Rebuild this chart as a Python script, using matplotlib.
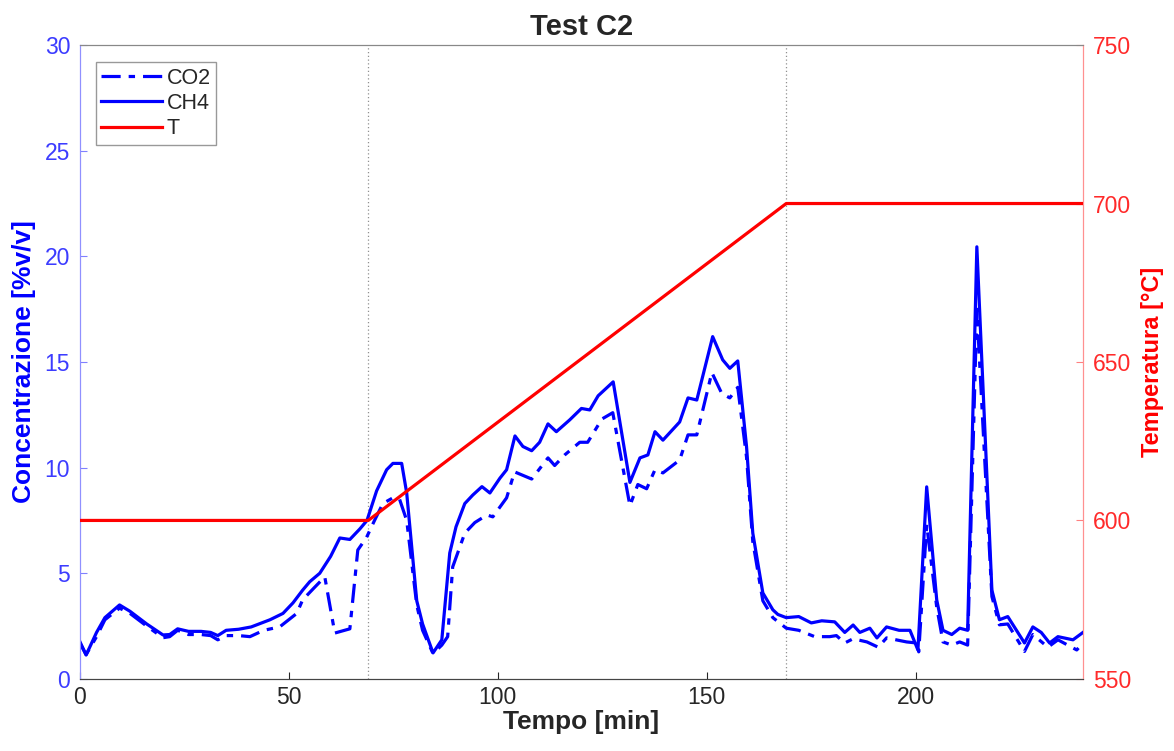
import matplotlib
matplotlib.use("Agg")
import matplotlib.pyplot as plt

plt.rcParams['font.family'] = ['Liberation Sans', 'DejaVu Sans']

# ---- data ----
t_ch4 = [0, 1.5, 4, 6, 9.5, 12, 16, 19.9, 21.5, 23.4, 26, 29, 31.3, 33, 35, 38, 41, 45.5, 48.6,
         51, 53.3, 55, 57.4, 60, 62.2, 64.6, 67, 68.7, 71, 73.4, 74.9, 77, 78.2, 80.6, 82, 84.5,
         86.6, 88.5, 90, 92.1, 94, 96.2, 98.1, 100.5, 102.1, 104.1, 106, 108.1, 110, 112, 114,
         117.2, 120, 122, 124, 127.6, 131.6, 134, 135.9, 137.6, 139.5, 143.5, 145.5, 147.6, 151.4,
         153.8, 155.5, 157.4, 159.5, 161, 163.4, 165.8, 167, 169, 172, 175, 177.5, 180.6, 183, 185,
         186.6, 189, 190.7, 193, 196, 198.6, 200.5, 202.6, 205, 206.5, 208.6, 210.5, 212.4, 214.6,
         218.2, 220, 222, 226, 228, 230, 232, 234, 237.6, 240]
ch4 = [1.77, 1.13, 2.2, 2.9, 3.5, 3.2, 2.6, 2.08, 2.1, 2.37, 2.25, 2.25, 2.2, 2.05, 2.3, 2.35,
       2.46, 2.8, 3.1, 3.6, 4.2, 4.6, 5.0, 5.8, 6.67, 6.6, 7.1, 7.5, 8.9, 9.9, 10.2, 10.2, 8.8, 3.7,
       2.6, 1.23, 1.85, 5.96, 7.2, 8.3, 8.7, 9.1, 8.8, 9.5, 9.9, 11.5, 11.0, 10.8, 11.2, 12.07, 11.7,
       12.26, 12.8, 12.73, 13.4, 14.06, 9.3, 10.46, 10.6, 11.7, 11.3, 12.16, 13.3, 13.2, 16.2,
       15.1, 14.7, 15.05, 11.0, 6.9, 4.07, 3.27, 3.05, 2.9, 2.95, 2.65, 2.75, 2.7, 2.2, 2.55,
       2.2, 2.4, 1.94, 2.46, 2.3, 2.3, 1.37, 9.09, 3.74, 2.3, 2.1, 2.4, 2.3, 20.45,
       4.2, 2.8, 2.95, 1.7, 2.46, 2.2, 1.7, 2.0, 1.85, 2.2]

t_co2 = [0, 1.5, 4, 6, 9.5, 12, 16, 19.9, 21.5, 23.4, 26, 29, 31.3, 33, 35, 38, 40.7, 44, 47.8,
         51.9, 53.3, 56, 58.6, 61, 64.6, 66.5, 68.6, 70.5, 72.5, 74.9, 76.5, 78.2, 80.6, 82, 84.5,
         86.6, 88, 89.2, 92.1, 94.5, 97.4, 98.8, 102.1, 104, 108.1, 112, 113.6, 116, 119.6, 121.5,
         124.9, 127.5, 131.6, 133.5, 135.6, 137.6, 139.5, 143.5, 145.5, 147.6, 151.2, 153.6, 155.5,
         157.4, 159.5, 161, 163.4, 165.8, 169, 172, 175.8, 179.4, 181, 183, 185, 188.3, 191, 193,
         197.8, 200.2, 200.7, 202.6, 205, 206.5, 208.6, 210.5, 212.4, 214.6, 218.2, 220, 222, 226,
         228, 231.6, 234, 238.5, 240]
co2 = [1.7, 1.15, 2.0, 2.8, 3.35, 3.1, 2.5, 1.95, 2.0, 2.3, 2.1, 2.1, 2.05, 1.85, 2.05, 2.05,
       2.0, 2.3, 2.46, 3.1, 3.74, 4.3, 4.83, 2.17, 2.37, 6.1, 6.7, 7.5, 8.3, 8.57, 8.5, 7.5, 3.5,
       2.3, 1.2, 1.6, 2.0, 5.3, 6.9, 7.4, 7.76, 7.67, 8.57, 9.8, 9.46, 10.46, 10.1, 10.6, 11.2, 11.2,
       12.3, 12.6, 8.2, 9.2, 9.0, 9.9, 9.75, 10.36, 11.55, 11.55, 14.5, 13.5, 13.3, 13.8, 10.5,
       6.5, 3.7, 2.9, 2.4, 2.3, 2.0, 2.0, 2.05, 1.7, 1.9, 1.75, 1.5, 1.94, 1.75, 1.7, 1.28,
       7.3, 3.4, 1.75, 1.6, 1.75, 1.6, 17.5, 3.9, 2.56, 2.6, 1.3, 2.1, 1.5, 1.85, 1.37, 1.7]

t_temp = [0, 69, 169, 240]
temp = [600, 600, 700, 700]

vlines = [69, 169]

# ---- figure ----
fig = plt.figure(figsize=(11.74, 7.51), dpi=100)
ax = fig.add_axes([0.068, 0.096, 0.8545, 0.844])
ax2 = ax.twinx()

blue = '#0000ff'
red = '#ff0000'
blue_lbl = '#3c3cff'
red_lbl = '#ff2a2a'

for v in vlines:
    ax.axvline(v, color='#909090', lw=0.9, ls=(0, (1, 2)), zorder=1)

l1, = ax.plot(t_co2, co2, color=blue, lw=2.3, ls=(0, (6, 2.5, 2, 2.5)), label='CO2', zorder=3)
l2, = ax.plot(t_ch4, ch4, color=blue, lw=2.3, ls='-', label='CH4', zorder=3)
l3, = ax2.plot(t_temp, temp, color=red, lw=2.3, label='T', zorder=3)

ax.set_xlim(0, 240)
ax.set_ylim(0, 30)
ax2.set_ylim(550, 750)
ax.set_xticks([0, 50, 100, 150, 200])
ax.set_yticks([0, 5, 10, 15, 20, 25, 30])
ax2.set_yticks([550, 600, 650, 700, 750])

ax.tick_params(axis='x', direction='in', length=5, colors='#262626', labelsize=16.5, pad=5)
ax.tick_params(axis='y', direction='in', length=5, color='#8080ff', labelcolor=blue_lbl, labelsize=16.5, pad=7)
ax2.tick_params(axis='y', direction='in', length=5, color='#ff8080', labelcolor=red_lbl, labelsize=16.5, pad=7)
ax.tick_params(top=False)

for a in (ax, ax2):
    a.spines['top'].set_color('#888888')
    a.spines['bottom'].set_color('#444444')
    a.spines['left'].set_color('#9090ff')
    a.spines['right'].set_color('#ff9090')

ax.set_xlabel('Tempo [min]', fontsize=19, fontweight='bold', color='#262626', labelpad=1)
ax.set_ylabel('Concentrazione [%v/v]', fontsize=19, fontweight='bold', color=blue, labelpad=6)
ax2.set_ylabel('Temperatura [°C]', fontsize=17, fontweight='bold', color=red, labelpad=7)
ax.set_title('Test C2', fontsize=21, fontweight='bold', color='#262626', pad=7)

ax2.set_zorder(ax.get_zorder() + 1)
leg = ax2.legend(handles=[l1, l2, l3], loc='upper left', bbox_to_anchor=(0.016, 0.973),
                 fontsize=15.5, frameon=True, fancybox=False, handlelength=2.8,
                 borderpad=0.25, labelspacing=0.2, handletextpad=0.25, borderaxespad=0)
leg.get_frame().set_edgecolor('#808080')
leg.get_frame().set_linewidth(1.0)
for txt in leg.get_texts():
    txt.set_color('#262626')

fig.savefig('out.png', dpi=100)
